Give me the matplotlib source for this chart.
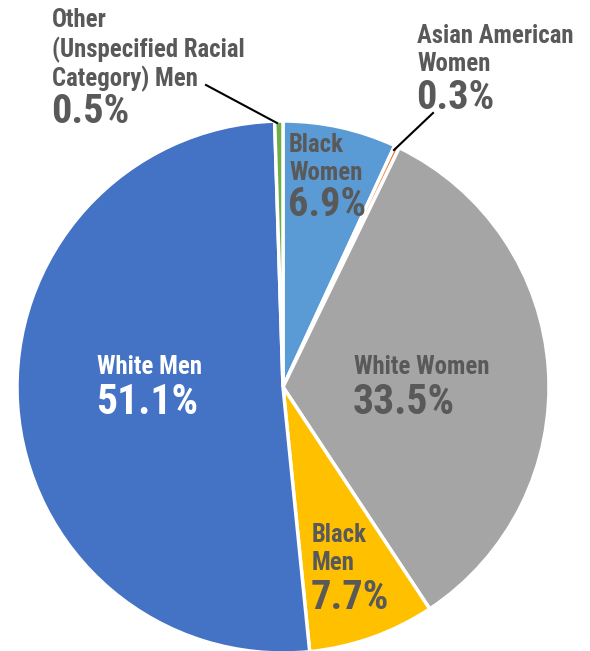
import matplotlib
matplotlib.use("Agg")
import matplotlib.pyplot as plt

# slices, clockwise from 12 o'clock
labels = ["Black Women", "Asian American Women", "White Women", "Black Men",
          "White Men", "Other (Unspecified Racial Category) Men"]
shares = [6.9, 0.3, 33.5, 7.7, 51.1, 0.5]
colors = ["#5B9BD5", "#ED7D31", "#A5A5A5", "#FFC000", "#4472C4", "#70AD47"]

plt.rcParams['font.family'] = ['Roboto Condensed', 'DejaVu Sans']
grey = "#595959"

fig = plt.figure(figsize=(5.9, 6.51), dpi=100)
ax = fig.add_axes([0, 0, 1, 1])
H = 651
ax.pie(shares, colors=colors, startangle=90, counterclock=False,
       center=(283, H - 387), radius=266,
       wedgeprops=dict(edgecolor="white", linewidth=2.5))
ax.set_xlim(0, 590)
ax.set_ylim(0, H)
ax.set_aspect("equal")
ax.axis("off")


def label(x, y, name, pct, color=grey, size=17.8, psize=29, gap=28, pgap=32):
    lines = name.split("\n")
    for i, ln in enumerate(lines):
        ax.text(x, H - (y + i * gap), ln, ha="left", va="center", fontsize=size,
                fontweight="bold", color=color)
    ax.text(x - 1, H - (y + (len(lines) - 1) * gap + pgap), pct, ha="left", va="center",
            fontsize=psize, fontweight="bold", color=color)


label(289, 145, "Black\nWomen", "6.9%")
label(354, 367, "White Women", "33.5%", psize=30, pgap=36)
label(312, 535, "Black\nMen", "7.7%", pgap=35)
label(97, 367, "White Men", "51.1%", color="white", psize=30, pgap=36)
label(52, 20, "Other\n(Unspecified Racial\nCategory) Men", "0.5%", gap=29.5, pgap=33)
label(417, 36, "Asian American\nWomen", "0.3%", pgap=34)

# leader lines
ax.plot([206, 277], [H - 85, H - 123], color="black", lw=1.5)
ax.plot([433, 394], [H - 113, H - 150], color="black", lw=1.5)

fig.savefig("out.png", dpi=100)
